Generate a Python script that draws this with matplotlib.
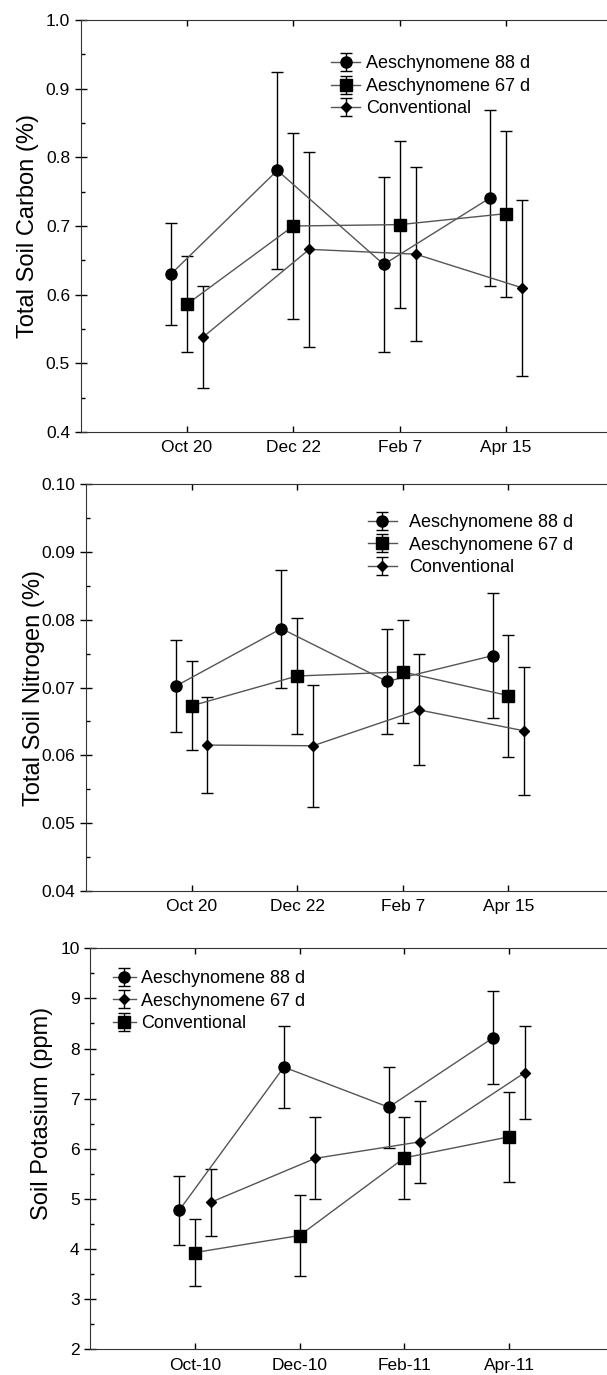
import numpy as np
import matplotlib.pyplot as plt
from matplotlib.ticker import MultipleLocator

plt.rcParams['font.family'] = ['Liberation Sans', 'DejaVu Sans']

# Data
dates_cn = ["Oct 20", "Dec 22", "Feb 7", "Apr 15"]
dates_k = ["Oct-10", "Dec-10", "Feb-11", "Apr-11"]

carbon_88 = [0.630, 0.781, 0.644, 0.741]
carbon_88_se = [0.074, 0.143, 0.127, 0.128]
carbon_67 = [0.586, 0.700, 0.702, 0.718]
carbon_67_se = [0.070, 0.136, 0.122, 0.121]
carbon_conv = [0.538, 0.666, 0.659, 0.610]
carbon_conv_se = [0.074, 0.142, 0.127, 0.128]

nitro_88 = [0.0702, 0.0787, 0.0709, 0.0747]
nitro_88_se = [0.0068, 0.0087, 0.0077, 0.0092]
nitro_67 = [0.0673, 0.0717, 0.0723, 0.0688]
nitro_67_se = [0.0066, 0.0086, 0.0076, 0.0090]
nitro_conv = [0.0615, 0.0614, 0.0667, 0.0636]
nitro_conv_se = [0.0071, 0.0090, 0.0082, 0.0095]

potas_88 = [4.77, 7.63, 6.83, 8.22]
potas_88_se = [0.68, 0.82, 0.81, 0.92]
potas_67 = [4.93, 5.81, 6.14, 7.52]
potas_67_se = [0.67, 0.82, 0.82, 0.93]
potas_conv = [3.93, 4.27, 5.82, 6.24]
potas_conv_se = [0.67, 0.80, 0.82, 0.90]

W, H = 607, 1375
fig = plt.figure(figsize=(W/100, H/100), dpi=100)


def make_axes(left, right, top, bottom) :
    return fig.add_axes([left/W, 1 - bottom/H, (right - left)/W, (bottom - top)/H])


def draw_series(ax, x, y, se, marker, ms, label) :
    ax.errorbar(x, y, yerr=se, fmt='-', marker=marker, ms=ms, color='#555555',
                mfc='black', mec='black', ecolor='black', elinewidth=1.0,
                capsize=4, capthick=1.0, lw=1.0, label=label)


def style_axes(ax, ylim, major, minor, labels, ylabel, yfmt) :
    ax.set_xlim(0, 5)
    ax.set_ylim(*ylim)
    ax.set_xticks([1, 2, 3, 4])
    ax.set_xticklabels(labels, fontsize=12.5)
    ax.yaxis.set_major_locator(MultipleLocator(major))
    ax.yaxis.set_minor_locator(MultipleLocator(minor))
    ax.set_yticklabels([yfmt % v for v in ax.get_yticks()], fontsize=12.5)
    ax.set_ylim(*ylim)
    ax.tick_params(axis='y', which='major', direction='inout', length=8, width=1)
    ax.tick_params(axis='y', which='minor', direction='in', length=3, width=1)
    ax.tick_params(axis='x', which='both', direction='in', length=4, width=1,
                   top=True, pad=6)
    ax.spines['right'].set_visible(False)
    for s in ['left', 'top', 'bottom'] :
        ax.spines[s].set_color('#333333')
    ax.set_ylabel(ylabel, fontsize=17)


def add_legend(ax, anchor, hlen, hpad) :
    ax.legend(loc='upper left', bbox_to_anchor=anchor, frameon=False,
              fontsize=13, handlelength=hlen, handletextpad=hpad, labelspacing=0.3,
              borderpad=0, borderaxespad=0)


x = np.arange(1, 5)
off = 0.15

# Panel 1 : carbon
ax1 = make_axes(80.5, 612.5, 20, 432)
draw_series(ax1, x - off, carbon_88, carbon_88_se, 'o', 8, "Aeschynomene 88 d")
draw_series(ax1, x, carbon_67, carbon_67_se, 's', 8, "Aeschynomene 67 d")
draw_series(ax1, x + off, carbon_conv, carbon_conv_se, 'D', 5.5, "Conventional")
style_axes(ax1, (0.4, 1.0), 0.1, 0.05, dates_cn, "Total Soil Carbon (%)", "%.1f")
ax1.yaxis.set_label_coords(-0.078, 0.5)
add_legend(ax1, (0.471, 0.914), 1.6, 0.35)

# Panel 2 : nitrogen
ax2 = make_axes(86, 614, 484.3, 890.7)
draw_series(ax2, x - off, nitro_88, nitro_88_se, 'o', 8, "Aeschynomene 88 d")
draw_series(ax2, x, nitro_67, nitro_67_se, 's', 8, "Aeschynomene 67 d")
draw_series(ax2, x + off, nitro_conv, nitro_conv_se, 'D', 5.5, "Conventional")
style_axes(ax2, (0.04, 0.10), 0.01, 0.005, dates_cn, "Total Soil Nitrogen (%)", "%.2f")
ax2.yaxis.set_label_coords(-0.078, 0.5)
add_legend(ax2, (0.534, 0.926), 1.6, 0.7)

# Panel 3 : potassium
ax3 = make_axes(90, 614, 948.3, 1349.3)
draw_series(ax3, x - off, potas_88, potas_88_se, 'o', 8, "Aeschynomene 88 d")
draw_series(ax3, x + off, potas_67, potas_67_se, 'D', 5.5, "Aeschynomene 67 d")
draw_series(ax3, x, potas_conv, potas_conv_se, 's', 8, "Conventional")
style_axes(ax3, (2, 10), 1, 0.5, dates_k, "Soil Potasium (ppm)", "%d")
ax3.yaxis.set_label_coords(-0.07, 0.587)
add_legend(ax3, (0.044, 0.945), 1.25, 0.3)

plt.savefig("out.png", dpi=100)
